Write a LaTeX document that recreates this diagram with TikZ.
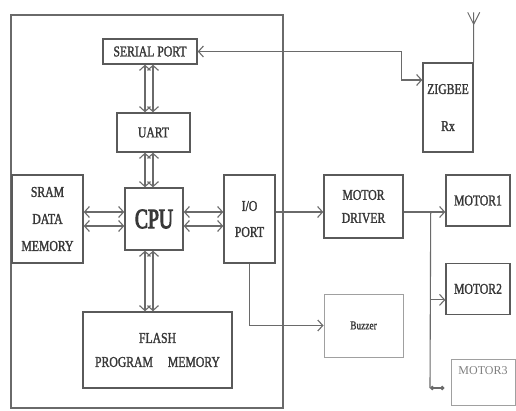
\documentclass[tikz,border=0pt]{standalone}
\usepackage{fontspec}
\setmainfont{Liberation Serif}
\newfontfamily\blockfont{Liberation Serif}[FakeStretch=0.78,FakeBold=1.5]
\newfontfamily\cpufont{Liberation Serif}[FakeStretch=0.7,FakeBold=3.5]
\usetikzlibrary{positioning,arrows.meta}
\definecolor{Linea}{HTML}{6A6A6A}
\definecolor{Borde}{HTML}{5A5A5A}
\definecolor{Texto}{HTML}{383838}
\definecolor{Claro}{HTML}{A0A0A0}

\begin{document}
\begin{tikzpicture}[
    x=1pt,y=1pt,
    every node/.style={font=\blockfont\fontsize{15}{24}\selectfont,align=center,text=Texto},
    block/.style={draw=Borde,line width=1.4pt,inner sep=2pt},
    faint/.style={draw=Claro,line width=1pt,inner sep=2pt},
    bus/.style={draw=Linea,line width=1.1pt,{Straight Barb[length=5pt,width=11pt]}-{Straight Barb[length=5pt,width=11pt]}},
    wire/.style={draw=Linea,line width=1.1pt,-{Straight Barb[length=5pt,width=11pt]}}
  ]
    \useasboundingbox (0,0) rectangle (516,410);
    % microcontroller outline
    \draw[Linea,line width=1.3pt] (11,2) rectangle (283,395);

    \node[block,minimum width=94pt,minimum height=25pt] (serial) at (150,358.5) {SERIAL PORT};
    \node[block,minimum width=73pt,minimum height=39pt] (uart) at (153.5,277.5) {UART};
    \node[block,minimum width=58pt,minimum height=62pt,font=\cpufont\fontsize{28}{28}\selectfont] (cpu) at (154,191) {CPU};
    \node[block,minimum width=71pt,minimum height=88pt,font=\blockfont\fontsize{15}{27}\selectfont] (sram) at (47.5,191) {SRAM\\DATA\\MEMORY};
    \node[block,minimum width=51pt,minimum height=88pt,font=\blockfont\fontsize{15}{26}\selectfont] (io) at (249.5,191) {I/O\\PORT};
    \node[block,minimum width=149pt,minimum height=76pt] (flash) at (157.5,60) {FLASH\\PROGRAM\quad MEMORY};

    \node[block,minimum width=50pt,minimum height=89pt,font=\blockfont\fontsize{15}{37}\selectfont] (zigbee) at (448,302.5) {ZIGBEE\\Rx};
    \node[block,minimum width=79pt,minimum height=63pt,font=\blockfont\fontsize{15}{23}\selectfont] (driver) at (363.5,203.5) {MOTOR\\DRIVER};
    \node[block,minimum width=64pt,minimum height=51pt] (motor1) at (478,209.5) {MOTOR1};
    \node[block,minimum width=64pt,minimum height=51pt,below=36pt of motor1] (motor2) {MOTOR2};
    \node[faint,minimum width=79pt,minimum height=63pt,font=\blockfont\fontsize{12}{12}\selectfont] (buzzer) at (363.5,84.5) {Buzzer};
    \node[faint,minimum width=64pt,minimum height=46pt,text depth=22pt,text=Texto!65,
          font=\fontsize{12}{12}\selectfont] (motor3) at (483,28) {MOTOR3};

    % bus columns and rows
    \coordinate (colL) at (145,0);
    \coordinate (colR) at (153,0);
    \coordinate (rowT) at (0,198);
    \coordinate (rowB) at (0,184);

    \foreach \c in {colL,colR}{
      \draw[bus] (serial.south -| \c) -- (uart.north -| \c);
      \draw[bus] (uart.south -| \c) -- (cpu.north -| \c);
      \draw[bus] (cpu.south -| \c) -- (flash.north -| \c);
    }
    \foreach \r in {rowT,rowB}{
      \draw[bus] (sram.east |- \r) -- (cpu.west |- \r);
      \draw[bus] (cpu.east |- \r) -- (io.west |- \r);
    }

    % serial link to the zigbee receiver
    \coordinate (zbin) at ([yshift=27.5pt]zigbee.west);
    \draw[bus] (serial.east) -| ([xshift=-21pt]zbin) -- (zbin);
    \coordinate (ant) at ([yshift=50pt]zigbee.north east);
    \draw[Linea,line width=1pt] (zigbee.north east) -- (ant)
      ([yshift=-12pt]ant) -- ++(-6,12) ([yshift=-12pt]ant) -- ++(6,12);

    % motor side
    \draw[wire] (io.east |- rowT) -- (driver.west |- rowT);
    \draw[wire] (driver.east |- rowT) -- (motor1.west |- rowT);
    \coordinate (tap) at ([xshift=27pt]driver.east |- rowT);
    \coordinate (tapend) at (430,22);
    \coordinate (m2in) at ([yshift=-11pt]motor2.west);
    \draw[Linea,line width=1.1pt] (tap) -- (tapend);
    \draw[wire] (tap |- m2in) -- (m2in);
    \coordinate (m3in) at ([xshift=-6pt]motor3.west |- tapend);
    \draw[Linea,line width=1.1pt,{Circle[length=4.5pt]}-{Circle[length=4.5pt]}] (tapend) -- (m3in);

    \draw[wire] (io.south) |- (buzzer.west);
  \end{tikzpicture}
\end{document}
